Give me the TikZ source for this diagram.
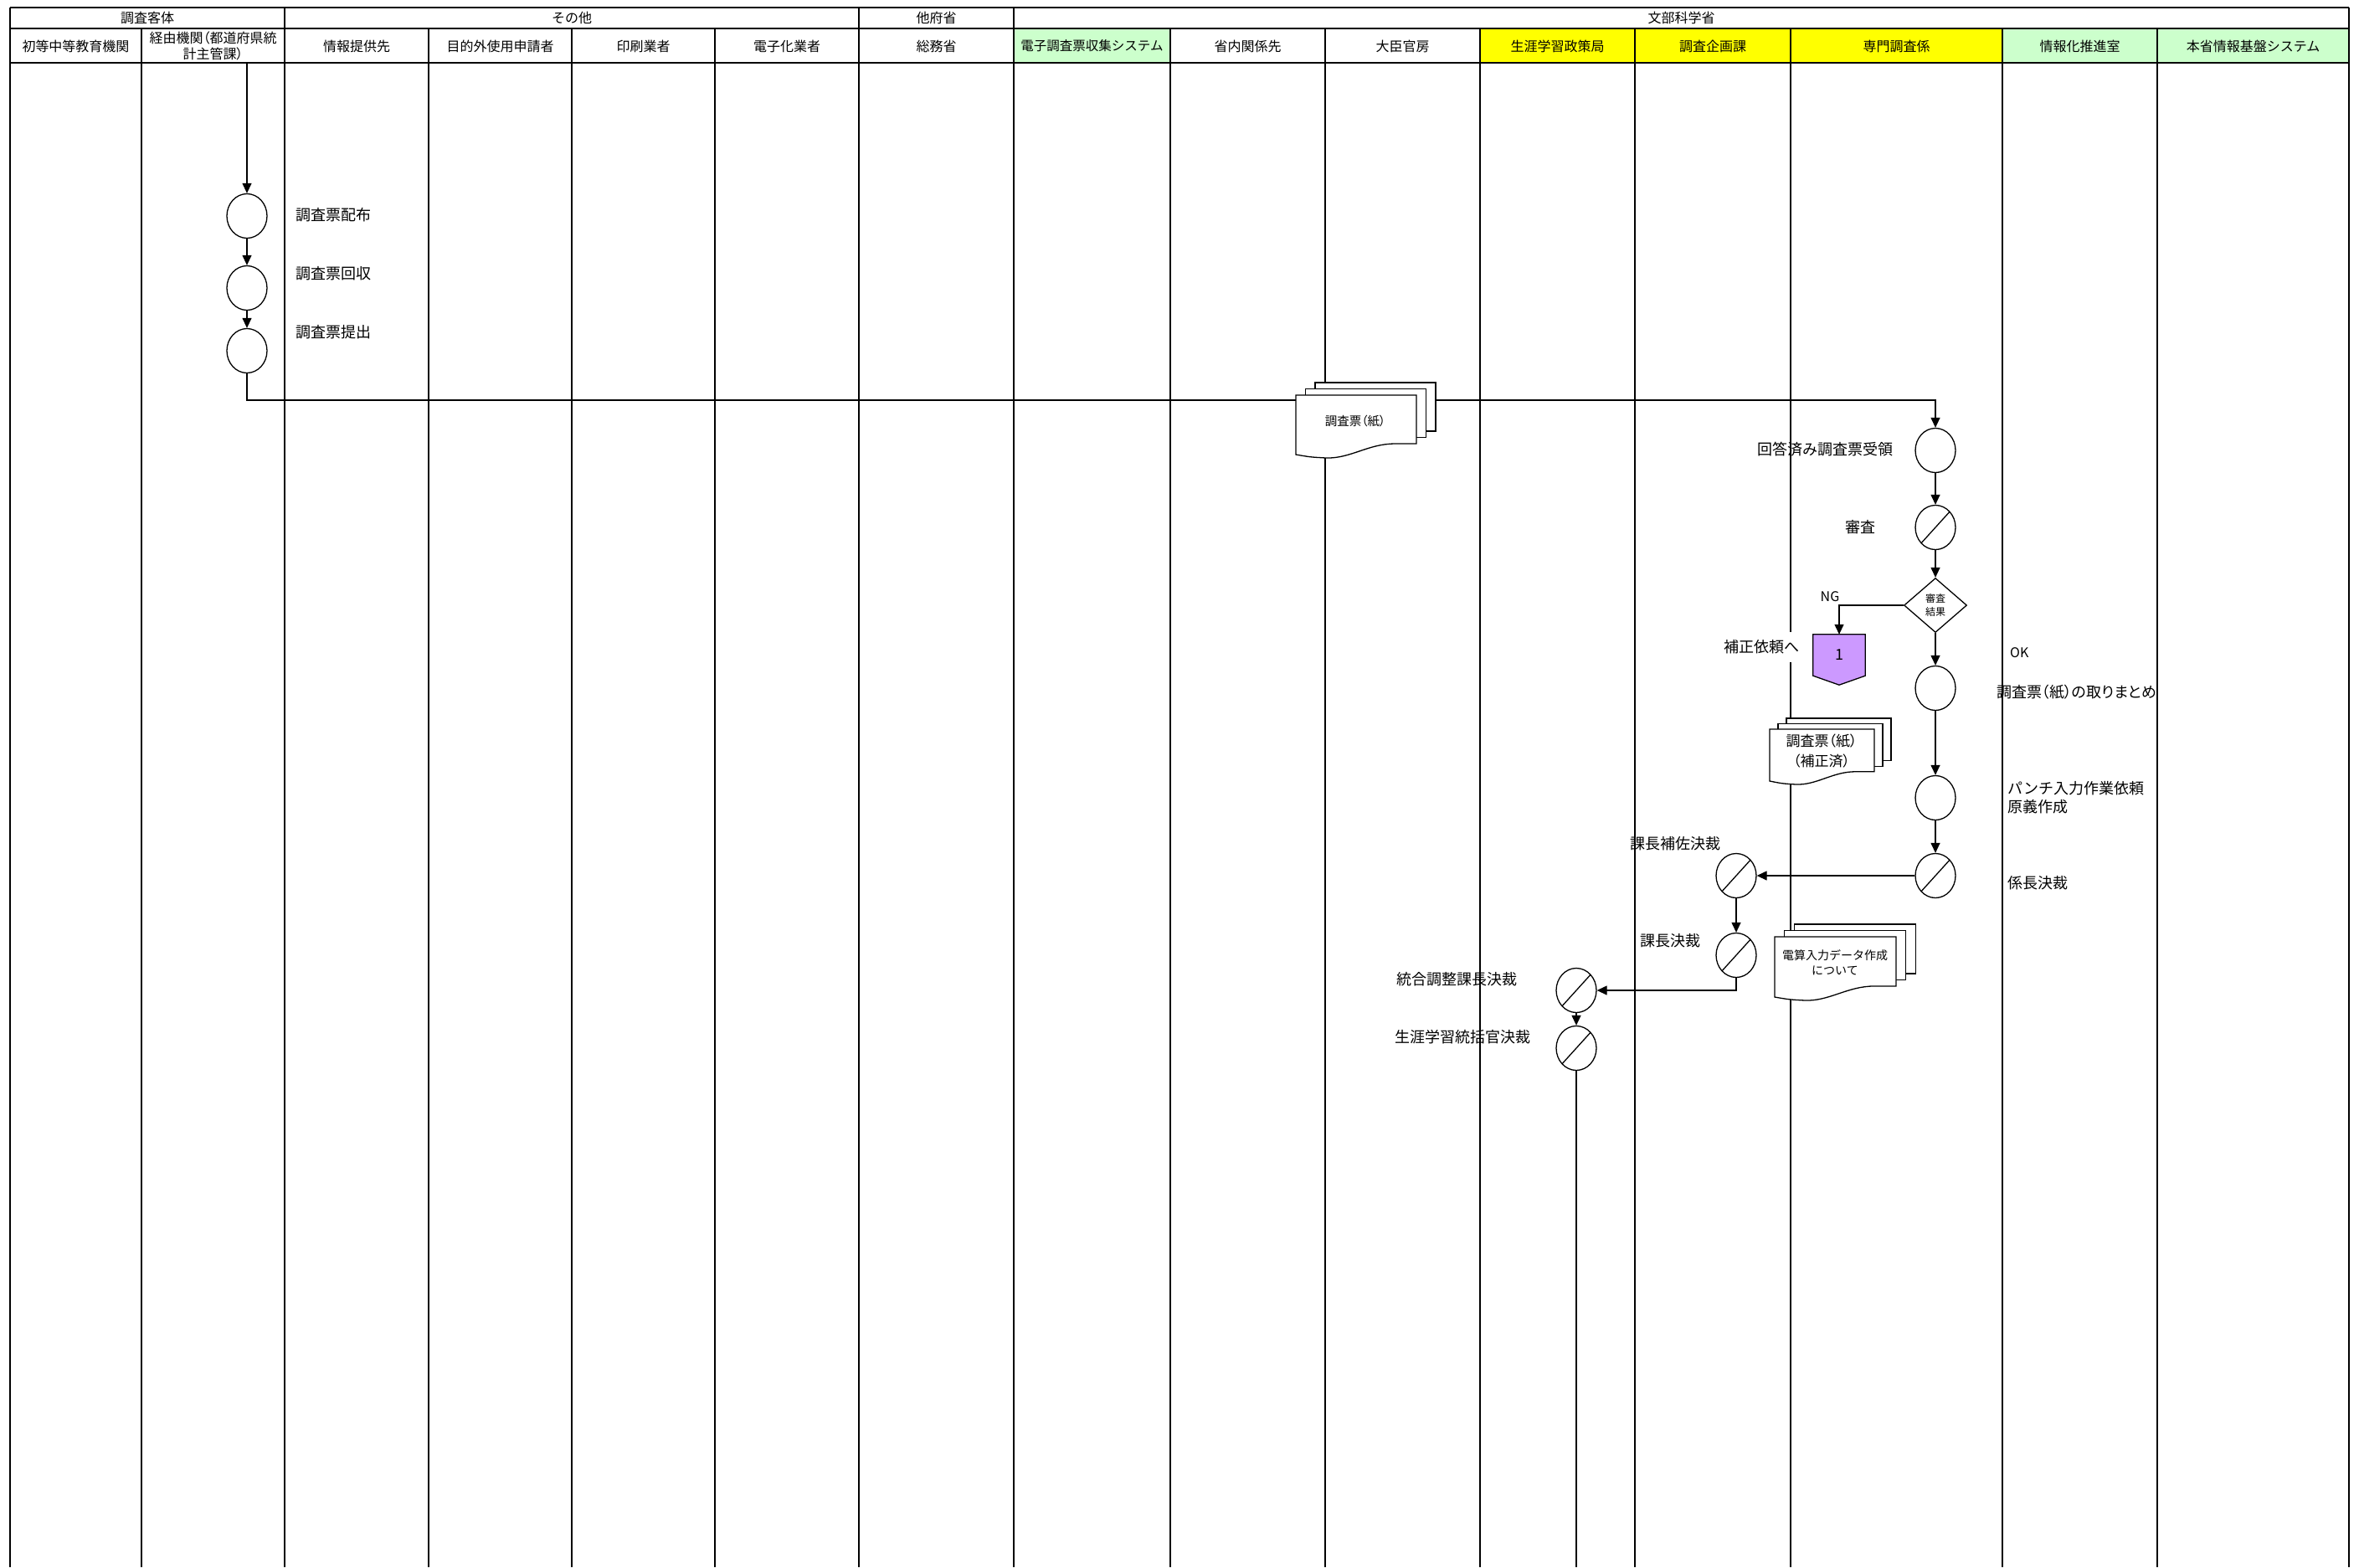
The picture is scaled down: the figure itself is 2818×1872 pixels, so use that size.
\documentclass[tikz,border=0pt]{standalone}
\usepackage{fontspec}
\setmainfont{Noto Sans CJK JP}
\newfontfamily\pfont[RawFeature=+palt]{Noto Sans CJK JP}
\usetikzlibrary{shapes.geometric,arrows.meta,calc}
\definecolor{hdrgreen}{HTML}{CCFFCC}
\definecolor{hdryellow}{HTML}{FFFF00}
\definecolor{conpurple}{HTML}{CC99FF}
\newcommand\dstack[4]{%
  \pgfmathsetmacro\dsox{0.08*#3}%
  \pgfmathsetmacro\dsoy{0.052*#3}%
  \pgfmathsetmacro\dshr{#4-0.09*#3}%
  \foreach \k in {2,1} {\filldraw[fill=white,conn] ({#1+\k*\dsox},{#2-\k*\dsoy}) rectangle ({#1+#3+\k*\dsox},{#2+\dshr-\k*\dsoy});}
  \filldraw[fill=white,conn] (#1,#2) -- ({#1+#3},#2) -- ({#1+#3},{#2+\dshr}) -- ({#1+0.82*#3},{#2+\dshr})
    .. controls ({#1+0.6*#3},{#2+\dshr}) and ({#1+0.45*#3},{#2+#4+5}) .. ({#1+0.25*#3},{#2+#4+4})
    .. controls ({#1+0.12*#3},{#2+#4+3}) .. (#1,{#2+#4}) -- cycle;
}
\begin{document}
\begin{tikzpicture}[x=1pt,y=-1pt,
  lane/.style={line width=2pt},
  conn/.style={line width=1.3pt},
  arr/.style={conn,-{Triangle[length=12pt,width=11pt]}},
  proc/.style={ellipse,draw,line width=1.3pt,minimum width=48pt,minimum height=53pt,inner sep=0pt,fill=white},
  appr/.style={proc,path picture={\draw[line width=1.3pt] (path picture bounding box.south west) -- (path picture bounding box.north east);}},
  lbl/.style={font=\fontsize{18}{22}\selectfont,inner sep=0pt},
  hdr/.style={font=\fontsize{16}{19}\selectfont,inner sep=0pt,align=center},
  doctext/.style={inner sep=0pt,align=center}
]
\useasboundingbox (0,0) rectangle (2818,1872);
\fill[white] (0,0) rectangle (2818,1872);
% header fills
\fill[hdrgreen] (1211,34) rectangle (1398,75);
\fill[hdryellow] (1768,34) rectangle (2392,75);
\fill[hdrgreen] (2392,34) rectangle (2806,75);
% horizontal header lines
\draw[lane] (12,9) -- (2806,9);
\draw[lane] (12,34) -- (2806,34);
\draw[lane] (12,75) -- (2806,75);
% lane lines
\foreach \x in {12,340,1026,1211,2806} {\draw[lane] (\x,9) -- (\x,1872);}
\foreach \x in {169,512,683,854,1398,1583,1768,1953,2139,2392,2577} {\draw[lane] (\x,34) -- (\x,1872);}
% header row 1
\node[hdr] (g1) at (176,21.5) {調査客体};
\node[hdr] (g2) at (683,21.5) {その他};
\node[hdr] (g3) at (1118.5,21.5) {他府省};
\node[hdr] (g4) at (2008.5,21.5) {文部科学省};
% header row 2
\node[hdr] (h1) at (90.5,55) {初等中等教育機関};
\node[hdr,font=\pfont\fontsize{16}{19}\selectfont] (h2) at (254.5,55) {経由機関（都道府県統\\計主管課）};
\node[hdr] (h3) at (426,55) {情報提供先};
\node[hdr] (h4) at (597.5,55) {目的外使用申請者};
\node[hdr] (h5) at (768.5,55) {印刷業者};
\node[hdr] (h6) at (940,55) {電子化業者};
\node[hdr] (h7) at (1118.5,55) {総務省};
\node[hdr,font=\fontsize{15.5}{19}\selectfont] (h8) at (1304.5,55) {電子調査票収集システム};
\node[hdr] (h9) at (1490.5,55) {省内関係先};
\node[hdr] (h10) at (1675.5,55) {大臣官房};
\node[hdr] (h11) at (1860.5,55) {生涯学習政策局};
\node[hdr] (h12) at (2046,55) {調査企画課};
\node[hdr] (h13) at (2265.5,55) {専門調査係};
\node[hdr] (h14) at (2484.5,55) {情報化推進室};
\node[hdr] (h15) at (2691.5,55) {本省情報基盤システム};

% process nodes
\coordinate (start) at (295,75);
\node[proc] (c1) at (295,258) {};
\node[proc] (c2) at (295,344) {};
\node[proc] (c3) at (295,419) {};
\node[proc] (rec) at (2312,538) {};
\node[appr] (rev) at (2312,630) {};
\node[diamond,draw,line width=1.3pt,fill=white,minimum width=75pt,minimum height=65pt,aspect=1.15,inner sep=0pt,align=center,font=\fontsize{12}{16}\selectfont] (dia) at (2312,723) {審査\\結果};
\node[proc] (matome) at (2312,822) {};
\node[proc] (punch) at (2312,953) {};
\node[appr] (kakari) at (2312,1046) {};
\node[appr] (hosa) at (2074,1046) {};
\node[appr] (kacho) at (2074,1141) {};
\node[appr] (togo) at (1883,1183) {};
\node[appr] (shogai) at (1883,1252) {};
\coordinate (yl) at (0,478);
\coordinate (bottomend) at (1883,1872);

% off-page connector
\path (2197,782.5) node[minimum width=62pt,minimum height=49pt,inner sep=0pt] (offp) {};
\filldraw[fill=conpurple,conn] (offp.north west) -- (offp.north east) -- (offp.south east) -- ($(offp.south)+(0,11)$) -- (offp.south west) -- cycle;
\node[font=\fontsize{18}{22}\selectfont,inner sep=0pt] (offpt) at (offp.center) {1};

% connectors
\draw[arr] (start) -- (c1.north);
\draw[arr] (c1.south) -- (c2.north);
\draw[arr] (c2.south) -- (c3.north);
\draw[arr] (c3.south) -- (c3.south |- yl) -| (rec.north);
\draw[arr] (rec.south) -- (rev.north);
\draw[arr] (rev.south) -- (dia.north);
\draw[arr] (dia.west) -| (offp.north);
\draw[arr] (dia.south) -- (matome.north);
\draw[arr] (matome.south) -- (punch.north);
\draw[arr] (punch.south) -- (kakari.north);
\draw[arr] (kakari.west) -- (hosa.east);
\draw[arr] (hosa.south) -- (kacho.north);
\draw[arr] (kacho.south) |- (togo.east);
\draw[arr] (togo.south) -- (shogai.north);
\draw[conn] (shogai.south) -- (bottomend);

% documents
\dstack{1548}{472}{144}{71}
\node[doctext,font=\pfont\fontsize{14.5}{17}\selectfont] (d1) at (1619,503) {調査票（紙）};
\dstack{2114}{871}{125}{62}
\node[doctext,font=\pfont\fontsize{17}{24}\selectfont] (d2) at (2176,897) {調査票（紙）\\（補正済）};
\dstack{2120}{1119}{145}{72}
\node[doctext,font=\fontsize{14}{18}\selectfont] (d3) at (2192,1150) {電算入力データ作成\\について};

% labels
\node[lbl,anchor=west] (l1) at (353,257) {調査票配布};
\node[lbl,anchor=west] (l2) at (353,327) {調査票回収};
\node[lbl,anchor=west] (l3) at (353,397) {調査票提出};
\node[lbl,anchor=east] (l4) at (2262,537) {回答済み調査票受領};
\node[lbl] (l5) at (2222,630) {審査};
\node[font=\fontsize{16}{19}\selectfont,inner sep=0pt] (lng) at (2186,713) {NG};
\node[lbl,anchor=east,fill=white,inner ysep=10pt,inner xsep=2pt] (l6) at (2152,773) {補正依頼へ};
\node[font=\fontsize{16}{19}\selectfont,inner sep=0pt,anchor=west] (lok) at (2401,780) {OK};
\node[lbl,anchor=west,font=\pfont\fontsize{18}{22}\selectfont] (l7) at (2385,827) {調査票（紙）の取りまとめ};
\node[lbl,anchor=west,align=left] (l8) at (2398,953) {パンチ入力作業依頼\\原義作成};
\node[lbl,anchor=west] (l9) at (2398,1055) {係長決裁};
\node[lbl,anchor=west] (l10) at (1947,1008) {課長補佐決裁};
\node[lbl,anchor=west] (l11) at (1959,1124) {課長決裁};
\node[lbl,anchor=west] (l12) at (1668,1170) {統合調整課長決裁};
\node[lbl,anchor=west] (l13) at (1666,1239) {生涯学習統括官決裁};
\end{tikzpicture}
\end{document}
